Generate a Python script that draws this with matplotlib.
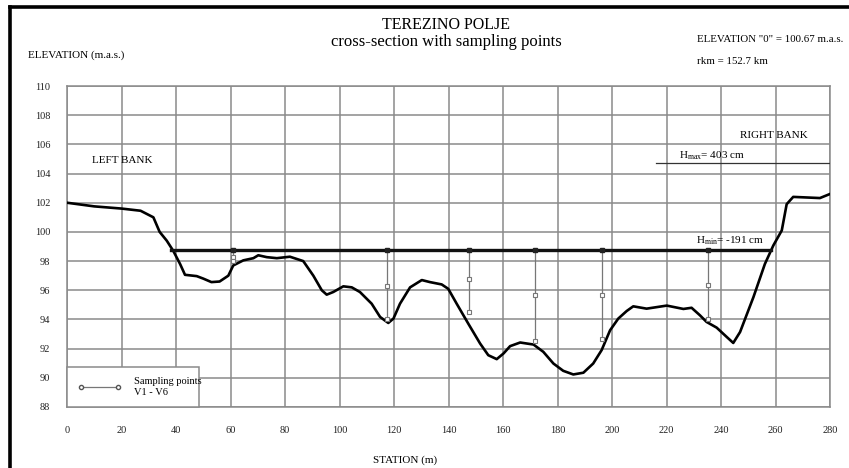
import matplotlib
matplotlib.use("Agg")
import matplotlib.pyplot as plt
from matplotlib.lines import Line2D

plt.rcParams['font.family'] = ['Liberation Serif', 'DejaVu Serif']
plt.rcParams['mathtext.fontset'] = 'custom'
plt.rcParams['mathtext.rm'] = 'Liberation Serif'

# ---- data ----
station = [0, 10, 20, 27, 31.7, 34, 36.6, 39, 41.5, 43.3, 47.6, 50, 53, 56, 59.2, 61,
           64.7, 68.4, 70.2, 73.3, 77, 81.8, 86.7, 90.4, 93.5, 95.3, 97.7, 101.4,
           104.5, 107.5, 111.8, 114.9, 117.9, 119.8, 122.2, 125.9, 130.2, 133.2,
           137.5, 139.9, 143, 147.3, 151.6, 154.6, 157.7, 160.2, 162.6, 166.3,
           171.2, 174.8, 178.5, 182.1, 185.8, 189.5, 193.1, 196.2, 199.3, 202.3,
           205.4, 207.8, 212.7, 220.1, 226.2, 229.2, 232.3, 234.7, 238.4, 242.1,
           244.5, 247, 251.9, 256.1, 259.2, 262.3, 264.1, 266.5, 271.4, 276.3, 280]
elevation = [102.0, 101.75, 101.6, 101.45, 101.0, 100.0, 99.4, 98.7, 97.8, 97.06,
             96.97, 96.8, 96.56, 96.6, 97.0, 97.7, 98.05, 98.2, 98.4, 98.27, 98.2,
             98.3, 98.0, 97.0, 96.0, 95.7, 95.88, 96.27, 96.2, 95.88, 95.08, 94.17,
             93.76, 94.06, 95.08, 96.2, 96.7, 96.56, 96.4, 96.1, 95.08, 93.7, 92.35,
             91.55, 91.28, 91.67, 92.17, 92.42, 92.28, 91.78, 90.98, 90.48, 90.23,
             90.35, 90.98, 91.9, 93.26, 94.06, 94.58, 94.9, 94.74, 94.95, 94.72,
             94.8, 94.28, 93.83, 93.44, 92.8, 92.39, 93.14, 95.53, 97.8, 99.07,
             100.1, 101.9, 102.4, 102.36, 102.32, 102.6]

water_level = 98.76          # Hmin = -191 cm
water_x = [38.3, 258.4]
hmax_level = 104.75          # Hmax = 403 cm
hmax_x = [216, 280]

sample_station = [61, 117.6, 147.5, 171.7, 196.2, 235.3]
sample_upper = [98.3, 96.27, 96.8, 95.65, 95.7, 96.33]
sample_lower = [98.0, 94.06, 94.53, 92.52, 92.64, 94.06]

x_ticks = list(range(0, 281, 20))
y_ticks = list(range(88, 111, 2))

# ---- figure ----
fig = plt.figure(figsize=(8.49, 4.68), dpi=100)
ax = fig.add_axes([67/849, 1-407/468, (830-67)/849, (407-86)/468])

grid_c = '#8a8a8a'
ax.set_xlim(0, 280)
ax.set_ylim(88, 110)
ax.set_xticks(x_ticks)
ax.set_yticks(y_ticks)
ax.tick_params(length=0, labelsize=7.5, colors='#222222')
ax.tick_params(axis='x', pad=14)
ax.tick_params(axis='y', pad=12)
ax.grid(True, color=grid_c, lw=1.1, zorder=0)
for s in ax.spines.values():
    s.set_color(grid_c)
    s.set_linewidth(1.1)

# terrain
ax.plot(station, elevation, color='black', lw=1.9, zorder=4)
# water level
ax.plot(water_x, [water_level, water_level], color='#111111', lw=2.4, zorder=4)
# Hmax line
ax.plot(hmax_x, [hmax_level, hmax_level], color='#333333', lw=0.9, zorder=3)

# sampling verticals
for xs, up, lo in zip(sample_station, sample_upper, sample_lower):
    ax.plot([xs, xs, xs], [water_level, up, lo], color='#777777', lw=0.9, zorder=5)
    ax.plot([xs], [water_level], marker='s', ms=3, color='#222222', zorder=6)
    ax.plot([xs, xs], [up, lo], ls='none', marker='s', ms=3, mfc='white',
            mec='#777777', mew=0.8, zorder=6)

# texts in axes
ax.text(9.0, 104.9, 'LEFT BANK', fontsize=8, va='center', ha='left', zorder=7)
ax.text(247, 106.6, 'RIGHT BANK', fontsize=8, va='center', ha='left', zorder=7)
ax.text(224.5, 105.25, r'H$_{\mathregular{max}}$= 403 cm', fontsize=8, va='center',
        ha='left', zorder=7)
ax.text(231, 99.4, r'H$_{\mathregular{min}}$= -191 cm', fontsize=8, va='center',
        ha='left', zorder=7)

# legend
handle = Line2D([], [], color='#777777', lw=0.9, marker='o', ms=3, mfc='white',
                mec='#555555')
leg = ax.legend([handle], ['Sampling points\nV1 - V6'], loc='lower left',
                bbox_to_anchor=(0, 0, 48.4/280, 3.4/22), mode='expand',
                borderaxespad=0, numpoints=2, handlelength=4.2, fontsize=7.5,
                fancybox=False, framealpha=1, edgecolor=grid_c, borderpad=1.0,
                handletextpad=1.2)
leg.get_frame().set_linewidth(1.1)
leg.set_zorder(8)

ax.set_xlabel('')
fig.text(405/849, 1-460/468, 'STATION (m)', fontsize=8, ha='center', va='center')

# header texts
fig.text(446/849, 1-25/468, 'TEREZINO POLJE', fontsize=11.5, ha='center', va='center')
fig.text(446/849, 1-42/468, 'cross-section with sampling points', fontsize=12,
         ha='center', va='center')
fig.text(28/849, 1-55/468, 'ELEVATION (m.a.s.)', fontsize=8, ha='left', va='center')
fig.text(697/849, 1-40/468, 'ELEVATION "0" = 100.67 m.a.s.', fontsize=7.8,
         ha='left', va='center')
fig.text(697/849, 1-62/468, 'rkm = 152.7 km', fontsize=7.8, ha='left', va='center')

# frame lines (border)
fig.add_artist(Line2D([10/849, 1.0], [1-7/468, 1-7/468], transform=fig.transFigure,
                      color='black', lw=2.6))
fig.add_artist(Line2D([10/849, 10/849], [0, 1-7/468], transform=fig.transFigure,
                      color='black', lw=2.6))

fig.savefig('out.png', dpi=100)
